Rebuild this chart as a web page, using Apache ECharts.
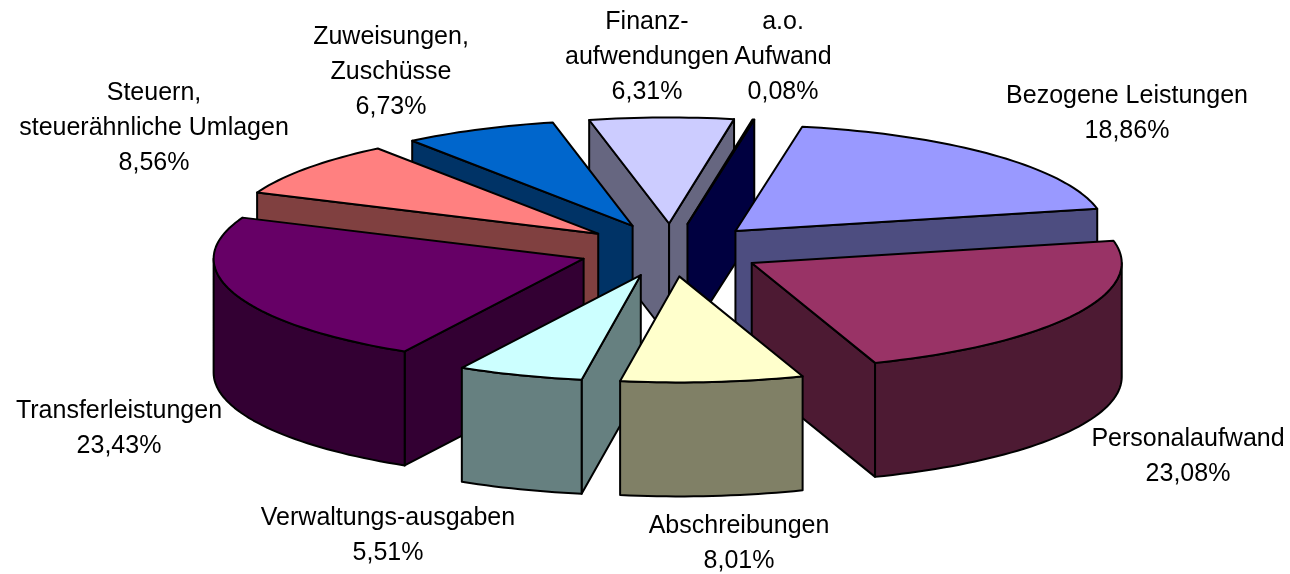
<!DOCTYPE html>
<html>
<head>
<meta charset="utf-8">
<style>
html, body { margin: 0; padding: 0; background: #fff; }
#chart { width: 1290px; height: 574px; }
</style>
<script src="https://cdn.jsdelivr.net/npm/echarts@6/dist/echarts.min.js"></script>
</head>
<body>
<div id="chart"></div>
<script>
var names = ['Bezogene Leistungen', 'Personalaufwand', 'Abschreibungen', 'Verwaltungs-ausgaben', 'Transferleistungen',
    'Steuern,\nsteuerähnliche Umlagen', 'Zuweisungen,\nZuschüsse', 'Finanz-\naufwendungen', 'a.o.\nAufwand'];
var values = [18.86, 23.08, 8.01, 5.51, 23.43, 8.56, 6.73, 6.31, 0.08];
var topColors = ['#9999FF', '#993366', '#FFFFCC', '#CCFFFF', '#660066', '#FF8080', '#0066CC', '#CCCCFF', '#000080'];
var sideColors = ['#4D4D80', '#4D1A33', '#808066', '#668080', '#330033', '#804040', '#003366', '#666680', '#000040'];

// label anchor (centre x, top y)
var labelX = [1127, 1188, 739, 388, 119, 154, 391, 647, 783];
var labelY = [79, 422, 509, 501, 394, 76, 20, 5, 5];

// pie geometry
var cx = 671, cy = 250, rx = 370, ry = 106, depth = 114;
var explode = 0.25, startDeg = 10.4;

var total = values.reduce(function (a, b) { return a + b; }, 0);

function pt(deg, ox, oy, dy) {
    var t = deg * Math.PI / 180;
    return [ox + rx * Math.sin(t), oy - ry * Math.cos(t) + (dy || 0)];
}

var slices = [];
var acc = startDeg;
values.forEach(function (v, i) {
    var sweep = v / total * 360;
    var mid = (acc + sweep / 2) * Math.PI / 180;
    slices.push({
        idx: i,
        a: acc,
        b: acc + sweep,
        ox: cx + explode * rx * Math.sin(mid),
        oy: cy - explode * ry * Math.cos(mid)
    });
    acc += sweep;
});

// back slices first
var drawOrder = slices.slice().sort(function (p, q) { return p.oy - q.oy; });

function arc(s, from, to, dy) {
    var out = [];
    var n = Math.max(2, Math.ceil(Math.abs(to - from) / 1.5));
    for (var k = 0; k <= n; k++) {
        out.push(pt(from + (to - from) * k / n, s.ox, s.oy, dy));
    }
    return out;
}

function poly(points, fill) {
    return {
        type: 'polygon',
        shape: { points: points },
        style: { fill: fill, stroke: '#000', lineWidth: 2, lineJoin: 'round' }
    };
}

function cutFace(s, deg, fill) {
    var p = pt(deg, s.ox, s.oy);
    return poly([[s.ox, s.oy], p, [p[0], p[1] + depth], [s.ox, s.oy + depth]], fill);
}

function renderSlice(params, api) {
    var s = drawOrder[api.value(0)];
    var children = [];
    var side = sideColors[s.idx];
    var a = s.a, b = s.b;

    // cut faces that turn towards the viewer
    if (Math.sin(a * Math.PI / 180) <= 0) children.push(cutFace(s, a, side));
    if (Math.sin(b * Math.PI / 180) > 0) children.push(cutFace(s, b, side));

    // outer rim, only the near half of the ellipse shows
    var from = Math.max(a, 90), to = Math.min(b, 270);
    if (to > from) {
        children.push(poly(arc(s, from, to, 0).concat(arc(s, to, from, depth)), side));
    }

    children.push(poly([[s.ox, s.oy]].concat(arc(s, a, b, 0)), topColors[s.idx]));
    return { type: 'group', children: children };
}

var labelElements = names.map(function (n, i) {
    return {
        type: 'text',
        x: labelX[i],
        y: labelY[i],
        style: {
            text: n + '\n' + values[i].toFixed(2).replace('.', ',') + '%',
            fill: '#000',
            font: '25px "Liberation Sans"',
            lineHeight: 35,
            align: 'center',
            verticalAlign: 'top'
        }
    };
});

var myChart = echarts.init(document.getElementById('chart'));
var option = {
    animation: false,
    backgroundColor: '#fff',
    graphic: { elements: labelElements },
    series: [
        {
            type: 'custom',
            coordinateSystem: 'none',
            silent: true,
            renderItem: renderSlice,
            data: drawOrder.map(function (s, i) { return [i, values[s.idx]]; })
        }
    ]
};
myChart.setOption(option, true);
</script>
</body>
</html>
